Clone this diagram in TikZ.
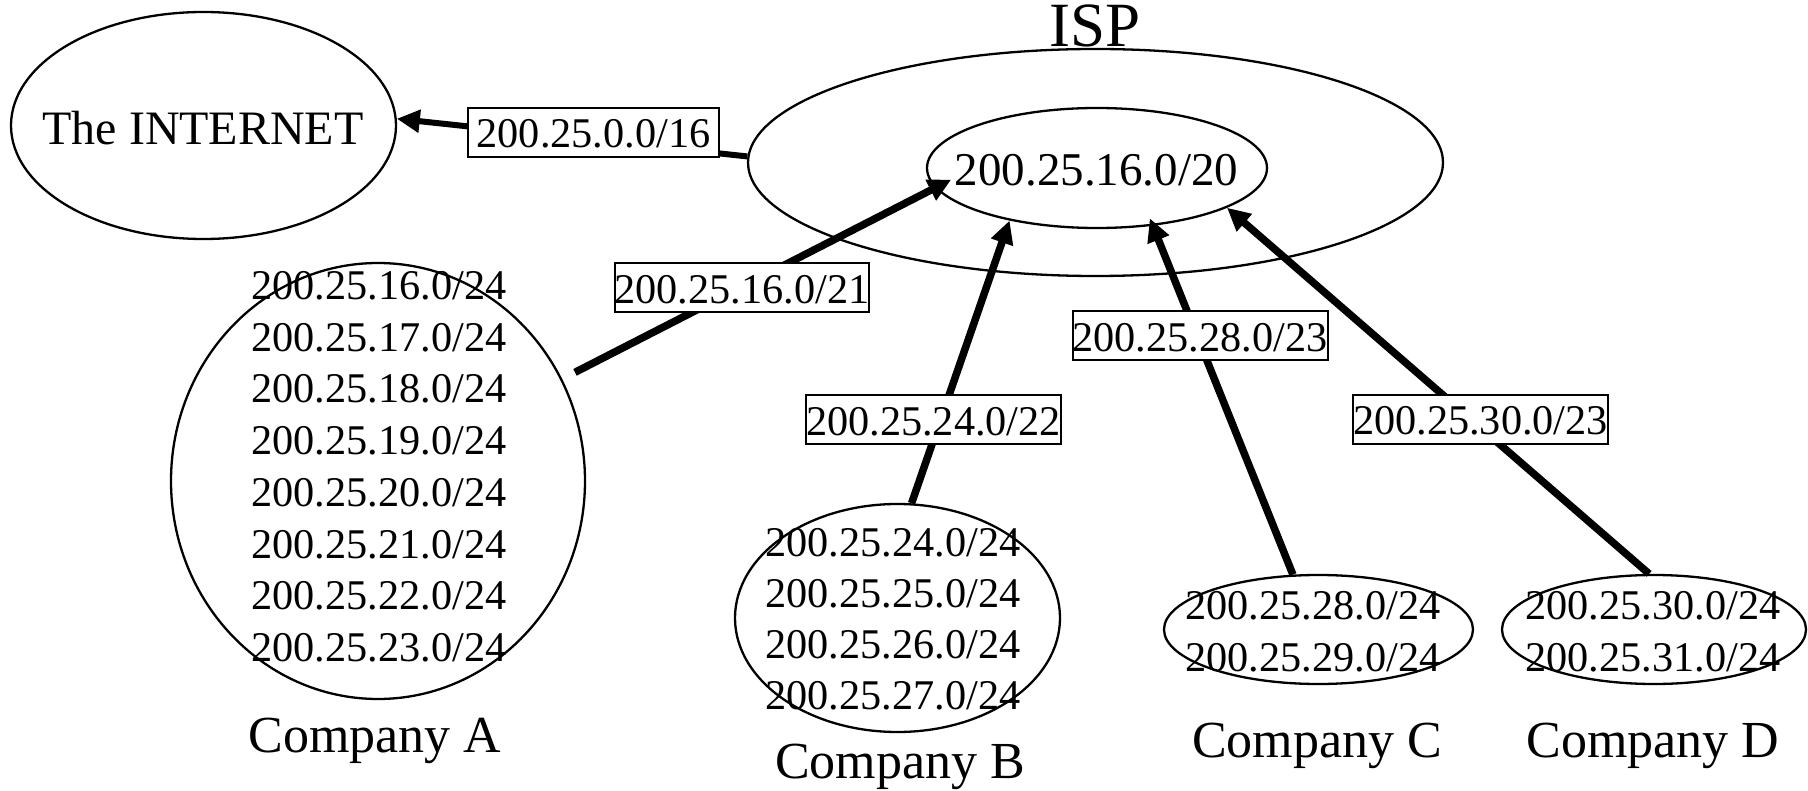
\documentclass[tikz,border=0pt]{standalone}
\usepackage{fontspec}
\setmainfont{Liberation Serif}
\usetikzlibrary{arrows.meta,shapes.geometric}

\begin{document}
\begin{tikzpicture}[x=1pt,y=-1pt,
  oval/.style={ellipse,draw,line width=2.3pt,inner sep=0pt},
  netlist/.style={align=center,inner sep=0pt},
  route/.style={draw,fill=white,line width=2pt,inner sep=0pt,
    minimum width=251pt,minimum height=49pt,text height=31pt,text depth=0pt,
    font=\fontsize{42.3}{50}\selectfont},
  link/.style={line width=7.5pt,-{Triangle[length=23pt,width=22pt]}},
  caption/.style={anchor=base,inner sep=0pt,font=\fontsize{52}{60}\selectfont}]
\useasboundingbox[fill=white] (0,0) rectangle (1808,791);

% outlines
\node[oval,minimum width=385pt,minimum height=227pt] (net) at (203.5,125.5) {};
\node[oval,minimum width=695pt,minimum height=227pt] (isp) at (1095.5,162.5) {};
\node[oval,minimum width=340pt,minimum height=120pt] (agg) at (1097,168) {};
\node[oval,minimum width=414pt,minimum height=436pt] (A) at (378,481) {};
\node[oval,minimum width=325pt,minimum height=228pt] (B) at (897.5,618) {};
\node[oval,minimum width=309pt,minimum height=109pt] (C) at (1318.5,629.5) {};
\node[oval,minimum width=304pt,minimum height=109pt] (D) at (1654,629.5) {};

% texts inside the outlines
\node[netlist,font=\fontsize{48}{56}\selectfont] (nettxt) at (203,127.6) {The INTERNET};
\node[netlist,font=\fontsize{47}{55}\selectfont] (aggtxt) at (1096.5,170) {200.25.16.0/20};
\node[netlist,font=\fontsize{42.3}{51.7}\selectfont] (Atxt) at (379,466.7)
  {200.25.16.0/24\\200.25.17.0/24\\200.25.18.0/24\\200.25.19.0/24\\
   200.25.20.0/24\\200.25.21.0/24\\200.25.22.0/24\\200.25.23.0/24};
\node[netlist,font=\fontsize{42.3}{51}\selectfont] (Btxt) at (893,619)
  {200.25.24.0/24\\200.25.25.0/24\\200.25.26.0/24\\200.25.27.0/24};
\node[netlist,font=\fontsize{42.3}{52}\selectfont] (Ctxt) at (1313,631.7)
  {200.25.28.0/24\\200.25.29.0/24};
\node[netlist,font=\fontsize{42.3}{52}\selectfont] (Dtxt) at (1653,631.7)
  {200.25.30.0/24\\200.25.31.0/24};

% captions
\node[caption,font=\fontsize{63}{70}\selectfont] (isplbl) at (1095,47) {ISP};
\node[caption] (capA) at (375,752) {Company A};
\node[caption] (capB) at (900,778) {Company B};
\node[caption] (capC) at (1317,757) {Company C};
\node[caption] (capD) at (1653,757) {Company D};

% advertised routes
\draw[link,line width=6pt] (isp.179) -- (net.2);
\draw[link,shorten <=14.4pt,shorten >=-18pt] (A.29.6) -- (agg.187.5);
\draw[link] (B.83) -- (agg.211.5);
\draw[link,shorten >=-8pt] (C.115) -- (agg.314.7);
\draw[link] (D.95) -- (agg.343.5);

% route labels
\node[route] (r16) at (593.5,132.5) {200.25.0.0/16};
\node[route] (r21) at (742,288) {200.25.16.0/21};
\node[route] (r22) at (933.5,420) {200.25.24.0/22};
\node[route] (r23c) at (1200,336) {200.25.28.0/23};
\node[route] (r23d) at (1480.5,419.5) {200.25.30.0/23};
\end{tikzpicture}
\end{document}
